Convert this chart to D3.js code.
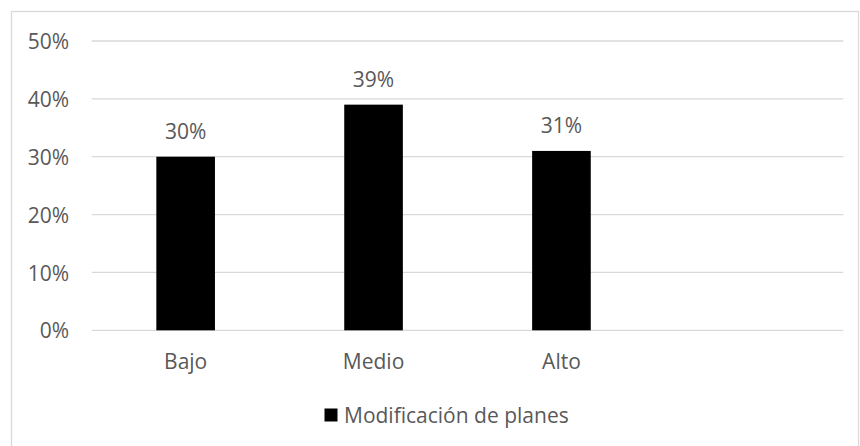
<!DOCTYPE html>
<html>
<head>
<meta charset="utf-8">
<script src="https://cdn.jsdelivr.net/npm/d3@7"></script>
<style>
  html, body { margin: 0; padding: 0; background: #fff; }
  svg { display: block; }
  text { font-family: "Open Sans", "Noto Sans", sans-serif; fill: #595959; }
</style>
</head>
<body>
<svg id="chart" width="860" height="446"></svg>
<script>
const categories = ["Bajo", "Medio", "Alto", ""];
const values = [0.30, 0.39, 0.31, null];
const seriesName = "Modificación de planes";
const yTicks = [0, 0.1, 0.2, 0.3, 0.4, 0.5];

const svg = d3.select("#chart");
const W = 860, H = 446;
const plot = { left: 91.7, right: 843.3, top: 41, bottom: 330.3 };
const fontSize = 21;

// outer border
svg.append("rect")
  .attr("x", 11.5).attr("y", 11.5)
  .attr("width", W - 13).attr("height", H)
  .attr("fill", "none").attr("stroke", "#d9d9d9").attr("stroke-width", 1.3);

const x = d3.scaleBand().domain(categories).range([plot.left, plot.right]).padding(0);
const y = d3.scaleLinear().domain([0, 0.5]).range([plot.bottom, plot.top]);

// gridlines
svg.append("g").selectAll("line").data(yTicks).join("line")
  .attr("x1", plot.left).attr("x2", plot.right)
  .attr("y1", d => y(d)).attr("y2", d => y(d))
  .attr("stroke", "#d9d9d9").attr("stroke-width", 1.3);

// y axis labels
const yAxis = d3.axisLeft(y).tickValues(yTicks).tickFormat(d3.format(".0%")).tickSize(0).tickPadding(0);
const gy = svg.append("g").attr("transform", `translate(69,0)`).call(yAxis);
gy.select(".domain").remove();
gy.selectAll("text").attr("font-size", fontSize).attr("font-family", null).attr("fill", "#595959").attr("dy", "0.36em");

// x axis labels
const xAxis = d3.axisBottom(x).tickSize(0).tickPadding(0);
const gx = svg.append("g").attr("transform", `translate(0,${plot.bottom})`).call(xAxis);
gx.select(".domain").remove();
gx.selectAll("text").attr("font-size", fontSize).attr("font-family", null).attr("fill", "#595959")
  .attr("dy", null).attr("y", 38.5);

// bars
const barFrac = 0.312;
const data = categories.map((c, i) => ({ c, v: values[i] })).filter(d => d.v != null);
const bw = x.bandwidth() * barFrac;
svg.append("g").selectAll("rect").data(data).join("rect")
  .attr("x", d => x(d.c) + x.bandwidth() / 2 - bw / 2)
  .attr("width", bw)
  .attr("y", d => y(d.v))
  .attr("height", d => y(0) - y(d.v))
  .attr("fill", "#000");

// data labels
svg.append("g").selectAll("text").data(data).join("text")
  .attr("x", d => x(d.c) + x.bandwidth() / 2)
  .attr("y", d => y(d.v) - 18)
  .attr("text-anchor", "middle")
  .attr("font-size", fontSize)
  .text(d => d3.format(".0%")(d.v));

// legend
const lg = svg.append("g");
lg.append("rect").attr("x", 324.5).attr("y", 408.5).attr("width", 13).attr("height", 13).attr("fill", "#000");
lg.append("text").attr("x", 344).attr("y", 423).attr("font-size", fontSize).text(seriesName);
</script>
</body>
</html>
